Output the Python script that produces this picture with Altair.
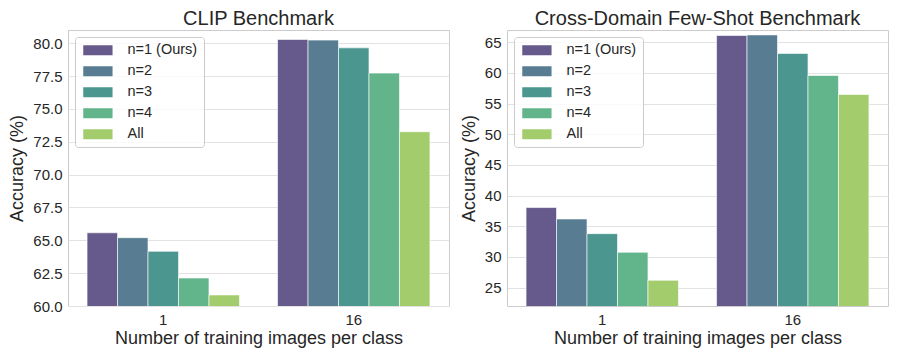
import altair as alt
import pandas as pd

groups = ["1", "16"]
methods = ["n=1 (Ours)", "n=2", "n=3", "n=4", "All"]
colors = ["#665a8c", "#587d92", "#4c9690", "#62b58a", "#a3cc6d"]

clip_1 = [65.57, 65.20, 64.16, 62.13, 60.84]
clip_16 = [80.28, 80.23, 79.64, 77.72, 73.26]
cd_1 = [38.05, 36.19, 33.80, 30.76, 26.19]
cd_16 = [66.10, 66.20, 63.17, 59.58, 56.48]

clip_ticks = [60.0, 62.5, 65.0, 67.5, 70.0, 72.5, 75.0, 77.5, 80.0]
cd_ticks = [25, 30, 35, 40, 45, 50, 55, 60, 65]


def make_df(v1, v16):
    rows = []
    for g, vals in zip(groups, [v1, v16]):
        for m, v in zip(methods, vals):
            rows.append({"group": g, "method": m, "acc": v})
    return pd.DataFrame(rows)


FONT = "Liberation Sans"
TXT = "#262626"


def panel(df, title, domain, ticks, fmt):
    return alt.Chart(df).mark_bar(
        clip=True, stroke="white", strokeWidth=1, strokeOpacity=0.6
    ).encode(
        x=alt.X(
            "group:N", sort=groups,
            title="Number of training images per class",
            scale=alt.Scale(paddingInner=0.2, paddingOuter=0.1),
            axis=alt.Axis(labelAngle=0, grid=False, ticks=False, domain=False,
                          labelPadding=6, titlePadding=2),
        ),
        xOffset=alt.XOffset("method:N", sort=methods,
                            scale=alt.Scale(paddingInner=0, paddingOuter=0)),
        y=alt.Y(
            "acc:Q", title="Accuracy (%)",
            scale=alt.Scale(domain=domain, nice=False, zero=False),
            axis=alt.Axis(values=ticks, format=fmt, ticks=False, domain=False,
                          labelPadding=6, titlePadding=6, grid=True),
        ),
        color=alt.Color(
            "method:N", sort=methods,
            scale=alt.Scale(domain=methods, range=colors),
            legend=alt.Legend(
                title=None, orient="top-left", offset=7, padding=6,
                fillColor="rgba(255,255,255,0.8)", strokeColor="#cccccc",
                cornerRadius=3,
                symbolType="M-1,-1L4.86,-1L4.86,1L-1,1Z", symbolSize=100,
                symbolStrokeWidth=0, symbolOpacity=1,
                labelOffset=32, labelFontSize=14.5, labelFont=FONT,
                labelColor=TXT, rowPadding=6,
            ),
        ),
    ).properties(width=381, height=276, title=title)


left = panel(make_df(clip_1, clip_16), "CLIP Benchmark", [60, 81], clip_ticks, ".1f")
right = panel(make_df(cd_1, cd_16), "Cross-Domain Few-Shot Benchmark", [22, 67], cd_ticks, "d")

chart = alt.hconcat(left, right, spacing=9).resolve_scale(
    color="independent", y="independent", x="independent"
).resolve_legend(color="independent").properties(
    padding={"left": 0, "top": 0, "right": 0, "bottom": 0}
).configure_view(
    stroke="#cccccc", strokeWidth=1
).configure_axis(
    labelFont=FONT, titleFont=FONT, labelFontSize=15, titleFontSize=18,
    labelColor=TXT, titleColor=TXT, titleFontWeight="normal",
    gridColor="#e2e2e2", gridWidth=1,
).configure_title(
    font=FONT, fontSize=20, fontWeight="normal", color=TXT, offset=1
)

chart.save("out.html", embed_options={"renderer": "svg", "actions": False})
